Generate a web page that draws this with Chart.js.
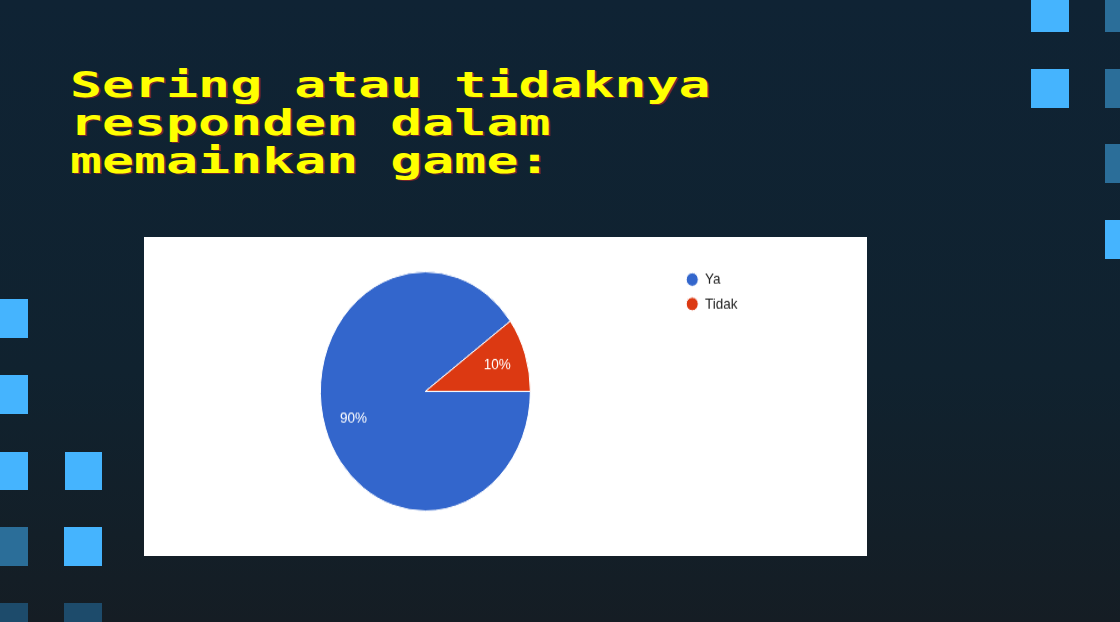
<!DOCTYPE html>
<html>
<head>
<meta charset="utf-8">
<script src="https://cdn.jsdelivr.net/npm/chart.js@4/dist/chart.umd.min.js"></script>
<style>
  html, body { margin:0; padding:0; }
  body { width:1120px; height:622px; overflow:hidden; position:relative;
         background: linear-gradient(to bottom, #0f2334 0%, #10222f 60%, #131f28 86%, #151d24 100%); }
  .sq { position:absolute; }
  .l { background:#45b4fe; }
  .m { background:#2b6e99; }
  .d { background:#1d4b6b; }
  #title { position:absolute; left:70px; top:66px; margin:0;
           font-family:"DejaVu Sans Mono", monospace; font-weight:bold; font-size:35px; line-height:38px;
           color:#ffff00; white-space:pre; transform:scaleX(1.52); transform-origin:0 0;
           text-shadow: 1px 1px 0 rgba(150,40,40,0.75); }
  #panel { position:absolute; left:144px; top:237px; width:723px; height:319px; background:#ffffff; }
  #c { display:block; }
</style>
</head>
<body>
<div class="sq l" style="left:1031px;top:0;width:38px;height:32px"></div>
<div class="sq l" style="left:1031px;top:69px;width:38px;height:39px"></div>
<div class="sq m" style="left:1105px;top:0;width:15px;height:32px"></div>
<div class="sq m" style="left:1105px;top:69px;width:15px;height:39px"></div>
<div class="sq m" style="left:1105px;top:144px;width:15px;height:39px"></div>
<div class="sq l" style="left:1105px;top:220px;width:15px;height:39px"></div>

<div class="sq l" style="left:0;top:299px;width:28px;height:39px"></div>
<div class="sq l" style="left:0;top:375px;width:28px;height:39px"></div>
<div class="sq l" style="left:0;top:452px;width:28px;height:38px"></div>
<div class="sq l" style="left:65px;top:452px;width:37px;height:38px"></div>
<div class="sq m" style="left:0;top:527px;width:28px;height:39px"></div>
<div class="sq l" style="left:64px;top:527px;width:38px;height:39px"></div>
<div class="sq d" style="left:0;top:603px;width:28px;height:19px"></div>
<div class="sq d" style="left:64px;top:603px;width:38px;height:19px"></div>

<div id="title">Sering atau tidaknya
responden dalam
memainkan game:</div>

<div id="panel"><canvas id="c" width="723" height="280"></canvas></div>

<script>
const categories = ["Ya", "Tidak"];
const values = [90, 10];
const colors = ["#3366cc", "#dc3912"];

const sliceLabels = {
  id: 'sliceLabels',
  afterDatasetsDraw(chart) {
    const ctx = chart.ctx;
    const meta = chart.getDatasetMeta(0);
    const data = chart.data.datasets[0].data;
    const total = data.reduce((a, b) => a + b, 0);
    ctx.save();
    ctx.fillStyle = '#ffffff';
    ctx.font = '13.5px "Liberation Sans", Arial, sans-serif';
    ctx.textAlign = 'center';
    ctx.textBaseline = 'middle';
    meta.data.forEach((arc, i) => {
      const p = arc.getProps(['x', 'y', 'startAngle', 'endAngle', 'outerRadius'], true);
      const mid = (p.startAngle + p.endAngle) / 2;
      const r = p.outerRadius * 0.72;
      const pct = Math.round(data[i] / total * 100) + '%';
      ctx.fillText(pct, p.x + Math.cos(mid) * r, p.y + Math.sin(mid) * r);
    });
    ctx.restore();
  }
};

const canvas = document.getElementById('c');
const chart = new Chart(canvas, {
  type: 'pie',
  data: {
    labels: categories,
    datasets: [{
      data: values,
      backgroundColor: colors,
      borderColor: '#ffffff',
      borderWidth: 1
    }]
  },
  options: {
    responsive: false,
    animation: false,
    devicePixelRatio: 1,
    rotation: 90,
    radius: 105,
    layout: { padding: { left: 28.5, right: 119.5, top: 22.6, bottom: 31.6 } },
    plugins: {
      tooltip: { enabled: false },
      legend: {
        position: 'right',
        align: 'start',
        labels: {
          usePointStyle: true,
          pointStyle: 'circle',
          boxWidth: 12,
          boxHeight: 8.5,
          padding: 8,
          color: '#222222',
          font: { family: '"Liberation Sans", Arial, sans-serif', size: 13.5 }
        }
      }
    }
  },
  plugins: [sliceLabels]
});
canvas.style.width = '723px';
canvas.style.height = '319px';
</script>
</body>
</html>
